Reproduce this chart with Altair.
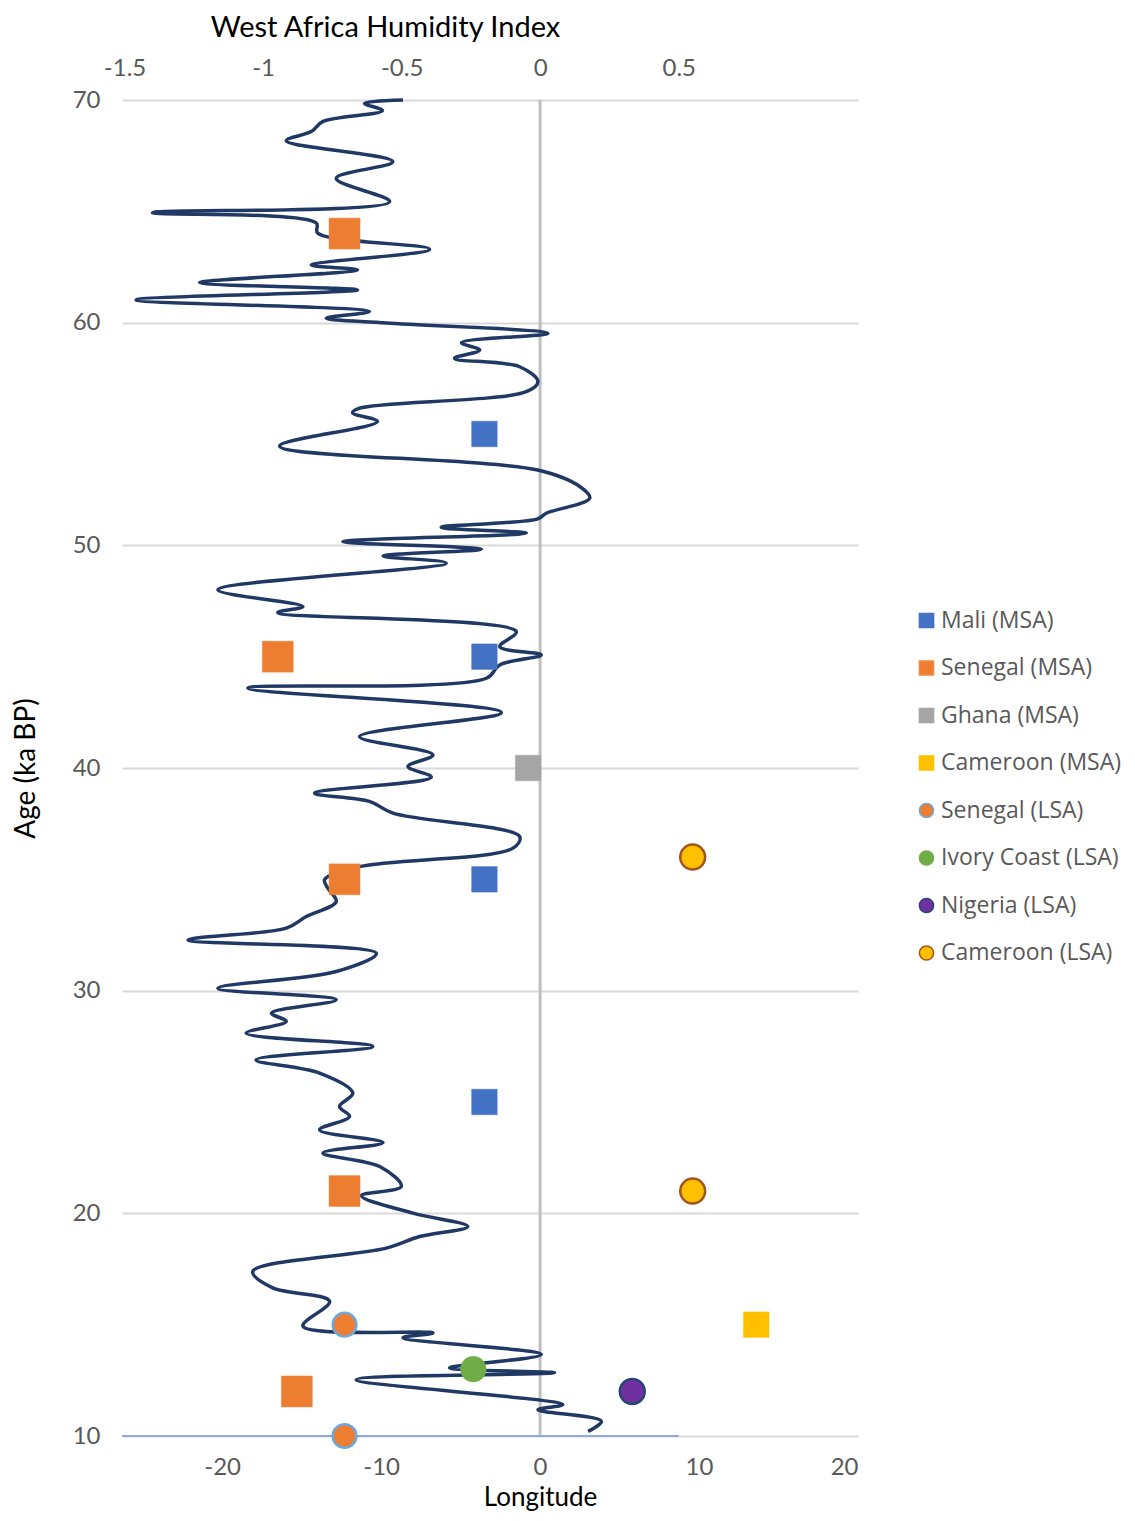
import altair as alt
import pandas as pd

# ---------------- data ----------------
# West Africa Humidity Index curve (age in ka BP, index value)
curve_age = [70.00, 69.85, 69.52, 69.03, 68.58, 68.17, 67.23, 66.48, 65.43, 64.94,
             64.48, 64.03, 63.30, 62.59, 62.37, 61.80, 61.47, 61.02, 60.50, 60.20,
             59.98, 59.52, 59.10, 58.77, 58.40, 58.02, 57.35, 56.90, 56.16, 55.95,
             55.56, 54.46, 53.38, 52.64, 52.12, 51.44, 51.19, 50.81, 50.55, 50.17,
             49.83, 49.52, 49.20, 48.00, 47.25, 46.98, 46.13, 45.45, 45.08, 44.63,
             44.03, 43.59, 42.49, 41.41, 40.59, 40.07, 39.59, 38.87, 38.50, 37.97,
             36.92, 36.40, 35.57, 34.98, 34.60, 34.00, 33.33, 32.81, 32.28, 31.68,
             30.86, 30.11, 29.59, 28.99, 28.62, 28.09, 27.49, 26.89, 26.30, 25.40,
             24.80, 24.35, 23.75, 23.18, 22.71, 22.10, 21.21, 20.79, 20.01, 19.41,
             18.96, 18.44, 17.39, 16.65, 16.05, 14.93, 14.63, 14.41, 13.66, 13.06,
             12.84, 12.53, 11.41, 11.18, 10.66, 10.21]
curve_index = [-0.495, -0.634, -0.569, -0.785, -0.826, -0.916, -0.532, -0.736, -0.543, -1.399,
               -0.808, -0.803, -0.399, -0.826, -0.659, -1.229, -0.659, -1.458, -0.616, -0.772,
               -0.555, 0.028, -0.284, -0.218, -0.309, -0.074, -0.008, -0.050, -0.652, -0.677,
               -0.587, -0.940, -0.009, 0.143, 0.179, 0.022, -0.009, -0.357, -0.050, -0.712,
               -0.212, -0.567, -0.339, -1.163, -0.856, -0.947, -0.086, -0.146, 0.004, -0.146,
               -0.194, -1.055, -0.140, -0.652, -0.387, -0.477, -0.393, -0.814, -0.616, -0.531,
               -0.074, -0.098, -0.652, -0.778, -0.766, -0.736, -0.844, -0.916, -1.271, -0.591,
               -0.736, -1.163, -0.736, -0.970, -0.916, -1.061, -0.604, -1.025, -0.796, -0.676,
               -0.724, -0.688, -0.796, -0.567, -0.784, -0.579, -0.501, -0.645, -0.459, -0.261,
               -0.435, -0.555, -1.037, -0.965, -0.760, -0.856, -0.387, -0.495, 0.004, -0.327,
               0.052, -0.664, 0.082, -0.008, 0.221, 0.173]

# archaeological sites
series_order = ["Mali (MSA)", "Senegal (MSA)", "Ghana (MSA)", "Cameroon (MSA)",
                "Senegal (LSA)", "Ivory Coast (LSA)", "Nigeria (LSA)", "Cameroon (LSA)"]
site_series = ["Mali (MSA)", "Mali (MSA)", "Mali (MSA)", "Mali (MSA)",
               "Senegal (MSA)", "Senegal (MSA)", "Senegal (MSA)", "Senegal (MSA)", "Senegal (MSA)",
               "Ghana (MSA)", "Cameroon (MSA)",
               "Senegal (LSA)", "Senegal (LSA)", "Ivory Coast (LSA)", "Nigeria (LSA)",
               "Cameroon (LSA)", "Cameroon (LSA)"]
site_lon = [-3.5, -3.5, -3.5, -3.5,
            -12.3, -16.5, -12.3, -12.3, -15.3,
            -0.75, 13.6,
            -12.3, -12.3, -4.2, 5.8,
            9.6, 9.6]
site_age = [55, 45, 35, 25,
            64, 45, 35, 21, 12,
            40, 15,
            15, 10, 13, 12,
            36, 21]

x_ticks = [-20, -10, 0, 10, 20]
hi_ticks = [-1.5, -1, -0.5, 0, 0.5]
y_ticks = [10, 20, 30, 40, 50, 60, 70]

# ---------------- styles ----------------
fills = ["#4472C4", "#ED7D31", "#A5A5A5", "#FFC000",
         "#ED7D31", "#70AD47", "#7030A0", "#FFC000"]
strokes = ["#4472C4", "#F08A45", "#A5A5A5", "#FFC000",
           "#6FA8DC", "#70AD47", "#264478", "#A0541E"]
shapes = ["square", "square", "square", "square",
          "circle", "circle", "circle", "circle"]

AXIS_FONT = "Lato"
LEGEND_FONT = "Open Sans"
TICK_SIZE = 24
LON_DOMAIN = [-26.3, 20]
HI_DOMAIN = [-1.509, 1.147]

curve_df = pd.DataFrame({"age": curve_age, "hi": curve_index})
sites_df = pd.DataFrame({"series": site_series, "lon": site_lon, "age": site_age})
zero_df = pd.DataFrame({"lon": [0]})
base_df = pd.DataFrame({"x0": [HI_DOMAIN[0]], "x1": [hi_ticks[-1]], "age": [10]})

y_axis = alt.Axis(values=y_ticks, grid=True, gridColor="#D9D9D9", gridWidth=2,
                  domain=False, ticks=False, labelPadding=22,
                  labelFont=AXIS_FONT, labelFontSize=TICK_SIZE, labelColor="#595959",
                  title="Age (ka BP)", titleFont=AXIS_FONT, titleFontSize=28,
                  titleFontWeight="normal", titleColor="#000000",
                  titleX=-96, titleBaseline="middle")
y_enc = alt.Y("age:Q", scale=alt.Scale(domain=[10, 70], nice=False, zero=False), axis=y_axis)

lon_scale = alt.Scale(domain=LON_DOMAIN, nice=False, zero=False)
hi_scale = alt.Scale(domain=HI_DOMAIN, nice=False, zero=False)

zero_rule = alt.Chart(zero_df).mark_rule(color="#BFBFBF", strokeWidth=3).encode(
    x=alt.X("lon:Q", scale=lon_scale, axis=None)
)

base_rule = alt.Chart(base_df).mark_rule(color="#8FAADC", strokeWidth=2).encode(
    x=alt.X("x0:Q", scale=hi_scale, axis=None),
    x2="x1:Q",
    y=y_enc,
)

curve = alt.Chart(curve_df).mark_line(
    color="#203864", strokeWidth=3.5, interpolate="catmull-rom"
).encode(
    x=alt.X("hi:Q", scale=hi_scale,
            axis=alt.Axis(orient="top", values=hi_ticks, labelExpr="'' + datum.value",
                          grid=False, domain=False, ticks=False, labelPadding=20,
                          labelFont=AXIS_FONT, labelFontSize=TICK_SIZE, labelColor="#595959",
                          title="West Africa Humidity Index", titleFont=AXIS_FONT,
                          titleFontSize=29, titleFontWeight="normal",
                          titleColor="#000000", titleX=263, titleY=-73,
                          titleBaseline="middle")),
    y=y_enc,
    order=alt.Order("age:Q", sort="descending"),
)

size_rule = (
    alt.when(alt.FieldOneOfPredicate(field="series", oneOf=["Senegal (MSA)"])).then(alt.value(960))
    .when(alt.FieldOneOfPredicate(field="series", oneOf=["Senegal (LSA)"])).then(alt.value(560))
    .when(alt.FieldOneOfPredicate(field="series", oneOf=["Ivory Coast (LSA)"])).then(alt.value(660))
    .when(alt.FieldOneOfPredicate(field="series", oneOf=["Nigeria (LSA)", "Cameroon (LSA)"])).then(alt.value(620))
    .otherwise(alt.value(650))
)
sw_rule = (
    alt.when(alt.FieldOneOfPredicate(field="series",
                                     oneOf=["Senegal (LSA)", "Nigeria (LSA)", "Cameroon (LSA)"]))
    .then(alt.value(2.5))
    .otherwise(alt.value(0.5))
)

points = alt.Chart(sites_df).mark_point(filled=True, opacity=1).encode(
    x=alt.X("lon:Q", scale=lon_scale,
            axis=alt.Axis(orient="bottom", values=x_ticks, labelExpr="'' + datum.value",
                          grid=False, domain=False, ticks=False, labelPadding=19,
                          labelFont=AXIS_FONT, labelFontSize=TICK_SIZE, labelColor="#595959",
                          title="Longitude", titleFont=AXIS_FONT, titleFontSize=26,
                          titleFontWeight="normal", titleColor="#000000",
                          titleX=418, titleY=61, titleBaseline="middle")),
    y=y_enc,
    fill=alt.Fill("series:N", scale=alt.Scale(domain=series_order, range=fills),
                  legend=alt.Legend(title=None, orient="none", legendX=793, legendY=509,
                                    labelFont=LEGEND_FONT, labelFontSize=23, labelColor="#595959",
                                    labelLimit=0, symbolSize=200, symbolStrokeWidth=1.5,
                                    rowPadding=23.5, labelOffset=3)),
    stroke=alt.Stroke("series:N", scale=alt.Scale(domain=series_order, range=strokes)),
    shape=alt.Shape("series:N", scale=alt.Scale(domain=series_order, range=shapes)),
    size=size_rule,
    strokeWidth=sw_rule,
)

chart = alt.layer(zero_rule, base_rule, curve, points).resolve_scale(
    x="independent"
).properties(
    width=736, height=1336,
    autosize=alt.AutoSizeParams(type="none"),
    padding={"left": 114, "top": 92, "right": 269, "bottom": 77},
    background="white",
).configure_view(stroke=None)

chart.save("out.html", embed_options={"renderer": "svg", "actions": False})
